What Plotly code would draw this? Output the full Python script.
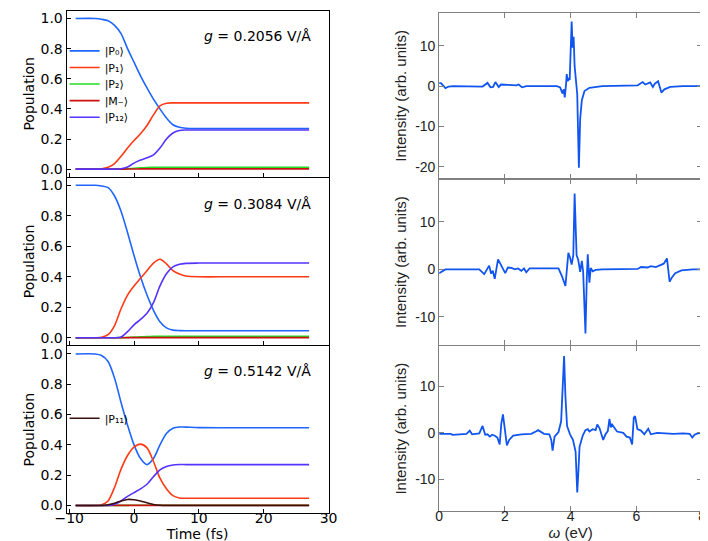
import plotly.graph_objects as go

# ---------------- data: population dynamics (left column) ----------------
t_fs = [-9, -6, -5, -4, -3, -2, -1, 0, 1, 2, 3, 4, 5, 6, 7, 8, 10, 15, 27]

# g = 0.2056 V/Å
a_P0  = [1, 1, 0.995, 0.985, 0.955, 0.90, 0.80, 0.71, 0.62, 0.54, 0.465, 0.40, 0.34, 0.295, 0.278, 0.272, 0.27, 0.27, 0.27]
a_P1  = [0, 0, 0.002, 0.012, 0.037, 0.085, 0.14, 0.19, 0.235, 0.29, 0.36, 0.42, 0.438, 0.44, 0.44, 0.44, 0.44, 0.44, 0.44]
a_P2  = [0, 0, 0, 0, 0, 0.001, 0.003, 0.006, 0.009, 0.011, 0.012, 0.012, 0.012, 0.012, 0.012, 0.012, 0.012, 0.012, 0.012]
a_Mm  = [0, 0, 0, 0, 0, 0, 0.001, 0.001, 0.002, 0.002, 0.002, 0.002, 0.002, 0.002, 0.002, 0.002, 0.002, 0.002, 0.002]
a_P12 = [0, 0, 0, 0, 0, 0.003, 0.015, 0.04, 0.06, 0.075, 0.095, 0.14, 0.20, 0.24, 0.257, 0.26, 0.26, 0.26, 0.26]

# g = 0.3084 V/Å
b_P0  = [1, 1, 0.995, 0.985, 0.93, 0.83, 0.69, 0.54, 0.40, 0.28, 0.18, 0.105, 0.065, 0.05, 0.047, 0.046, 0.046, 0.046, 0.046]
b_P1  = [0, 0, 0.003, 0.02, 0.08, 0.19, 0.28, 0.34, 0.39, 0.44, 0.49, 0.515, 0.485, 0.44, 0.418, 0.405, 0.40, 0.40, 0.40]
b_P2  = [0, 0, 0, 0, 0, 0.001, 0.002, 0.004, 0.006, 0.008, 0.009, 0.009, 0.009, 0.009, 0.009, 0.009, 0.009, 0.009, 0.009]
b_Mm  = [0, 0, 0, 0, 0, 0, 0.001, 0.001, 0.001, 0.001, 0.001, 0.001, 0.001, 0.001, 0.001, 0.001, 0.001, 0.001, 0.001]
b_P12 = [0, 0, 0, 0, 0, 0.005, 0.04, 0.085, 0.12, 0.16, 0.23, 0.34, 0.42, 0.465, 0.482, 0.488, 0.49, 0.49, 0.49]

# g = 0.5142 V/Å
c_P0  = [1, 1, 0.99, 0.95, 0.84, 0.68, 0.53, 0.40, 0.31, 0.27, 0.31, 0.40, 0.475, 0.51, 0.518, 0.517, 0.514, 0.513, 0.513]
c_P1  = [0, 0, 0.005, 0.03, 0.12, 0.24, 0.33, 0.385, 0.405, 0.38, 0.29, 0.18, 0.11, 0.065, 0.05, 0.048, 0.048, 0.048, 0.048]
c_P2  = [0, 0, 0, 0, 0, 0.001, 0.001, 0.002, 0.002, 0.002, 0.002, 0.002, 0.002, 0.002, 0.002, 0.002, 0.002, 0.002, 0.002]
c_Mm  = [0, 0, 0, 0, 0, 0.001, 0.001, 0.001, 0.001, 0.001, 0.001, 0.001, 0.001, 0.001, 0.001, 0.001, 0.001, 0.001, 0.001]
c_P12 = [0, 0, 0, 0, 0.008, 0.03, 0.06, 0.085, 0.11, 0.14, 0.19, 0.235, 0.258, 0.267, 0.27, 0.27, 0.27, 0.27, 0.27]
c_P11 = [0, 0, 0, 0.005, 0.015, 0.03, 0.04, 0.038, 0.03, 0.018, 0.007, 0.002, 0, 0, 0, 0, 0, 0, 0]

field_labels = ["0.2056", "0.3084", "0.5142"]
state_names = ["|P₀⟩", "|P₁⟩", "|P₂⟩", "|M₋⟩", "|P₁₂⟩", "|P₁₁⟩"]

# ---------------- data: spectra (right column) ----------------
w1 = [0.0, 0.06, 0.19, 0.29, 0.43, 1.32, 1.47, 1.56, 1.64, 1.71, 1.81, 1.88, 2.10, 2.35, 2.42, 2.52, 2.65,
      3.58, 3.68, 3.75, 3.79, 3.82, 3.86, 3.88, 3.91, 3.94, 3.97, 4.03, 4.06, 4.09, 4.12, 4.17, 4.20, 4.25,
      4.29, 4.34, 4.42, 4.57, 4.96, 6.04, 6.19, 6.27, 6.42, 6.50, 6.56, 6.66, 6.76, 6.85, 7.03, 7.42, 8.0]
s1 = [0.8, 0.7, -0.5, -0.1, 0.0, -0.1, 0.8, -0.3, -0.2, 1.0, -0.2, 0.4, 0.3, 0.2, 0.4, -0.3, 0.0,
      0.0, -0.3, -1.8, -0.8, -2.8, 0.5, 3.0, 1.2, 2.0, 1.5, 16.0, 9.5, 12.2, 5.0, 0.0, -2.0, -20.2,
      -8.0, -3.5, -1.2, -0.4, 0.0, 0.2, 1.0, 0.4, 0.9, -0.2, 0.6, 1.2, -1.6, -0.8, -0.2, 0.0, 0.0]

w2 = [0.0, 0.09, 0.19, 1.22, 1.37, 1.52, 1.58, 1.63, 1.69, 1.79, 1.91, 2.01, 2.09, 2.20, 2.30, 2.40, 2.50,
      2.58, 2.65, 2.75, 3.63, 3.74, 3.84, 3.93, 3.98, 4.03, 4.08, 4.12, 4.18, 4.23, 4.29, 4.34, 4.38, 4.45,
      4.49, 4.52, 4.57, 4.61, 4.67, 4.76, 4.96, 6.04, 6.14, 6.34, 6.44, 6.59, 6.73, 6.83, 6.93, 7.01, 7.07,
      7.18, 7.37, 7.72, 8.0]
s2 = [-0.8, -0.5, 0.0, 0.0, -1.0, 0.8, -0.9, -0.3, -2.0, 2.1, 0.5, -0.8, 0.4, 0.3, 0.0, 0.2, -0.3,
      0.2, -0.6, 0.2, 0.2, -1.5, -3.5, 3.5, 2.5, 1.0, 3.0, 16.0, 3.0, 2.0, -0.5, 1.8, -0.5, -13.5,
      -2.0, 3.2, -2.8, 0.3, -0.4, -0.1, 0.0, 0.1, 0.5, 0.4, 0.7, 0.5, 0.9, 1.2, 2.3, -2.6, -1.8,
      -0.8, -0.2, 0.0, 0.0]

w3 = [0.0, 0.24, 0.35, 0.41, 0.83, 0.93, 1.00, 1.22, 1.32, 1.40, 1.47, 1.54, 1.61, 1.69, 1.77, 1.84, 1.89,
      1.94, 2.00, 2.06, 2.13, 2.25, 2.50, 2.80, 2.94, 3.01, 3.19, 3.35, 3.41, 3.45, 3.51, 3.63, 3.71, 3.76,
      3.80, 3.84, 3.89, 3.98, 4.07, 4.15, 4.20, 4.23, 4.27, 4.37, 4.45, 4.52, 4.57, 4.67, 4.76, 4.81, 4.88,
      4.93, 4.99, 5.06, 5.13, 5.18, 5.22, 5.26, 5.31, 5.41, 5.60, 5.70, 5.80, 5.87, 5.92, 5.96, 6.03, 6.14,
      6.24, 6.36, 6.44, 6.63, 7.13, 7.42, 7.62, 7.70, 7.77, 7.86, 8.0]
s3 = [-0.2, -0.1, -0.2, -0.4, -0.2, 0.5, -0.3, -0.1, 1.5, -0.4, -0.3, -0.8, -0.4, -0.6, -1.0, -2.5, 2.0,
      4.0, 0.3, -2.7, -1.5, -0.6, -0.3, -0.2, 0.3, 0.6, -0.2, -0.3, -1.5, -3.8, -0.8, 0.2, 2.5, 10.0,
      16.5, 8.0, 1.5, -0.3, -1.5, -4.0, -12.8, -9.0, -3.0, -0.5, 0.6, 0.8, 0.3, 0.8, 0.6, 1.8, 1.0,
      -0.2, -1.5, -0.3, 0.4, 3.0, 1.2, 1.8, 1.2, 0.3, 0.0, -0.8, -1.0, -2.5, 3.3, 3.6, 0.8, 0.5,
      -0.3, 0.9, -0.3, 0.0, -0.2, -0.1, -0.2, -1.0, -0.4, -0.1, 0.0]

# ---------------- styles ----------------
c_blue, c_red, c_green, c_dred, c_purp, c_brown = "#1f66ff", "#ff3a14", "#22dd22", "#cc1111", "#5533ff", "#3a1010"
spec_color = "#1155f0"
LF = "DejaVu Sans"
RF = "Liberation Sans"
W, H = 708.0, 541.0

fig = go.Figure()

# one legend per entry so that rows can sit at the reference spacing
legend_ids = ["legend", "legend2", "legend3", "legend4", "legend5", "legend6"]
legend_rows = [42, 58.6, 75.2, 91.8, 108.4, 410.0]

panels = [
    (a_P0, a_P1, a_P2, a_Mm, a_P12, None),
    (b_P0, b_P1, b_P2, b_Mm, b_P12, None),
    (c_P0, c_P1, c_P2, c_Mm, c_P12, c_P11),
]
for i, (p0, p1, p2, mm, p12, p11) in enumerate(panels):
    xa = "x" if i == 0 else f"x{i+1}"
    ya = "y" if i == 0 else f"y{i+1}"
    series = [(p0, c_blue, 0), (p1, c_red, 1), (p2, c_green, 2), (mm, c_dred, 3), (p12, c_purp, 4)]
    for vals, col, k in series:
        fig.add_trace(go.Scatter(
            x=t_fs, y=vals, mode="lines", xaxis=xa, yaxis=ya,
            line=dict(color=col, width=1.6, shape="spline", smoothing=0.8),
            name=state_names[k], showlegend=(i == 0), legend=legend_ids[k]))
    if p11 is not None:
        fig.add_trace(go.Scatter(
            x=t_fs, y=p11, mode="lines", xaxis=xa, yaxis=ya,
            line=dict(color=c_brown, width=1.6, shape="spline", smoothing=0.8),
            name=state_names[5], showlegend=True, legend=legend_ids[5]))

for i, (w, s) in enumerate([(w1, s1), (w2, s2), (w3, s3)]):
    fig.add_trace(go.Scatter(x=w, y=s, mode="lines", xaxis=f"x{i+4}", yaxis=f"y{i+4}",
                             line=dict(color=spec_color, width=1.8), showlegend=False))

def pd(top, bot):
    return [1 - bot / H, 1 - top / H]

left_dom = [48 / W, 318 / W]
right_dom = [432 / W, 703 / W]
left_y = [pd(2, 168), pd(169, 337), pd(338, 505)]
right_y = [pd(4, 170), pd(170, 337), pd(338, 503)]
right_ranges = [[-22.9, 18.1], [-16.0, 19.1], [-16.8, 18.6]]
right_ticks = [[-20, -10, 0, 10], [-10, 0, 10], [-10, 0, 10]]

layout = dict(
    width=708, height=541, margin=dict(l=0, r=0, t=0, b=0),
    paper_bgcolor="white", plot_bgcolor="white",
)
for k, lid in enumerate(legend_ids):
    layout[lid] = dict(x=46 / W, y=1 - legend_rows[k] / H, xanchor="left", yanchor="middle",
                       font=dict(family=LF, size=11, color="black"),
                       bgcolor="rgba(0,0,0,0)", itemwidth=30)

for i in range(3):
    sx = "" if i == 0 else str(i + 1)
    layout[f"xaxis{sx}"] = dict(
        domain=left_dom, anchor=f"y{sx}", range=[-10.4, 30], tickvals=[-10, 0, 10, 20, 30],
        showticklabels=(i == 2), ticks="inside", ticklen=4, tickcolor="black",
        showline=True, linecolor="black", linewidth=1, mirror=True, showgrid=False, zeroline=False,
        tickfont=dict(family=LF, size=14, color="black"), ticklabelstandoff=-8,
        title=dict(text="Time (fs)" if i == 2 else "", font=dict(family=LF, size=14, color="black"), standoff=3),
    )
    layout[f"yaxis{sx}"] = dict(
        domain=left_y[i], anchor=f"x{sx}", range=[-0.05, 1.05], tickvals=[0, 0.2, 0.4, 0.6, 0.8, 1.0],
        tickformat=".1f", ticks="inside", ticklen=4, tickcolor="black",
        showline=True, linecolor="black", linewidth=1, mirror=True, showgrid=False, zeroline=False,
        tickfont=dict(family=LF, size=14, color="black"),
    )
    j = i + 4
    layout[f"xaxis{j}"] = dict(
        domain=right_dom, anchor=f"y{j}", range=[0, 8], tickvals=[0, 2, 4, 6, 8],
        showticklabels=(i == 2), ticks="inside", ticklen=5, tickcolor="#808080",
        showline=True, linecolor="#808080", linewidth=1, mirror="allticks", showgrid=False, zeroline=False,
        tickfont=dict(family=RF, size=14, color="#222"), ticklabelstandoff=-8,
        title=dict(text="<i>ω</i> (eV)" if i == 2 else "", font=dict(family=RF, size=15, color="#222"), standoff=3),
    )
    layout[f"yaxis{j}"] = dict(
        domain=right_y[i], anchor=f"x{j}", range=right_ranges[i], tickvals=right_ticks[i],
        ticktext=[str(v) for v in right_ticks[i]], ticks="inside", ticklen=5, tickcolor="#808080",
        showline=True, linecolor="#808080", linewidth=1, mirror="allticks", showgrid=False, zeroline=False,
        tickfont=dict(family=RF, size=14, color="#222"),
        title=dict(text="Intensity (arb. units)", font=dict(family=RF, size=15, color="#222"), standoff=4),
    )

ann_y = [27, 195, 363]
annotations = [
    dict(text=f"<i>g</i> = {field_labels[i]} V/Å", x=188 / W, y=1 - ann_y[i] / H, xref="paper", yref="paper",
         xanchor="left", yanchor="middle", showarrow=False, font=dict(family=LF, size=14, color="black"))
    for i in range(3)
]
# y-axis titles of the left column
for i in range(3):
    sx = "" if i == 0 else str(i + 1)
    annotations.append(dict(text="Population", textangle=-90, x=9 / W, y=0.5, xref="paper",
                            yref=f"y{sx} domain", xanchor="center", yanchor="middle", showarrow=False,
                            font=dict(family=LF, size=14, color="black")))
layout["annotations"] = annotations

fig.update_layout(**layout)
fig.write_html("out.html")
